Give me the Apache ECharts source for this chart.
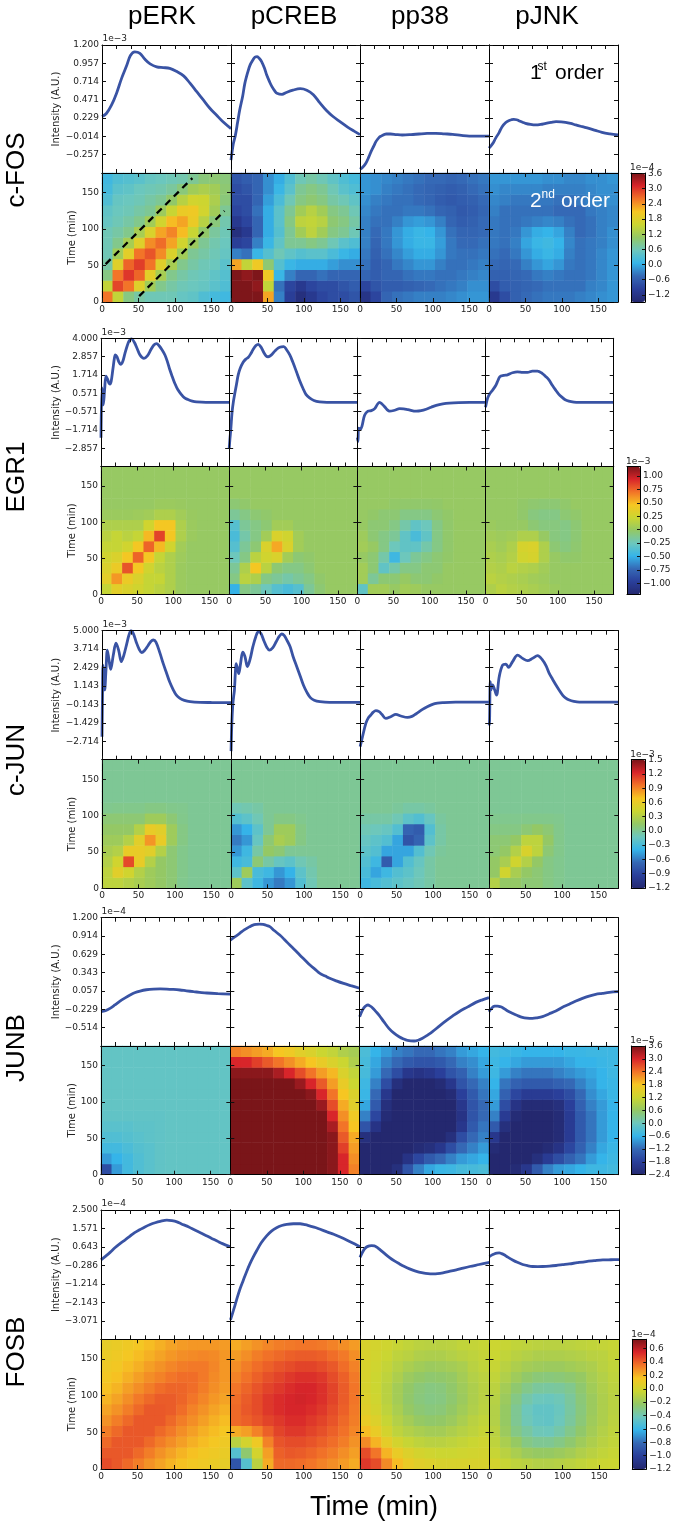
<!DOCTYPE html>
<html><head><meta charset="utf-8">
<script src="https://cdn.jsdelivr.net/npm/echarts@6/dist/echarts.min.js"></script>
<style>html,body{margin:0;padding:0;background:#fff}#c{width:676px;height:1529px}</style>
</head><body><div id="c"></div>
<script>
// ---------------- DATA ----------------
const proteins = ['pERK', 'pCREB', 'pp38', 'pJNK'];
const genes = ['c-FOS', 'EGR1', 'c-JUN', 'JUNB', 'FOSB'];
const T_MAX = 177;
const heatTimeTicks = [0, 50, 100, 150];
const lineTimeTicks = [0, 20, 40, 60, 80, 100, 120, 140, 160];
const cellIdx = ['0','1','2','3','4','5','6','7','8','9','10','11'];

// first-order axis ticks / ranges
const cfosTicks = [-0.257, -0.014, 0.229, 0.471, 0.714, 0.957, 1.2];
const egr1Ticks = [-2.857, -1.714, -0.571, 0.571, 1.714, 2.857, 4.0];
const cjunTicks = [-2.714, -1.429, -0.143, 1.143, 2.429, 3.714, 5.0];
const junbTicks = [-0.514, -0.229, 0.057, 0.343, 0.629, 0.914, 1.2];
const fosbTicks = [-3.071, -2.143, -1.214, -0.286, 0.643, 1.571, 2.5];
const cfosRange = [-0.5, 1.2];
const egr1Range = [-4, 4];
const cjunRange = [-4, 5];
const junbRange = [-0.8, 1.2];
const fosbRange = [-4, 2.5];

// colorbar ticks / ranges
const cfosCbTicks = [-1.2, -0.6, 0, 0.6, 1.2, 1.8, 2.4, 3.0, 3.6];
const egr1CbTicks = [-1.0, -0.75, -0.5, -0.25, 0, 0.25, 0.5, 0.75, 1.0];
const cjunCbTicks = [-1.2, -0.9, -0.6, -0.3, 0, 0.3, 0.6, 0.9, 1.2, 1.5];
const junbCbTicks = [-2.4, -1.8, -1.2, -0.6, 0, 0.6, 1.2, 1.8, 2.4, 3.0, 3.6];
const fosbCbTicks = [-1.2, -1.0, -0.8, -0.6, -0.4, -0.2, 0, 0.2, 0.4, 0.6];
const cfosCbRange = [-1.48, 3.62];
const egr1CbRange = [-1.21, 1.18];
const cjunCbRange = [-1.21, 1.5];
const junbCbRange = [-2.4, 3.6];
const fosbCbRange = [-1.2, 0.74];

// first-order kernels [time (min), value]
const cfos_pERK = [[0,0.25],[6,0.29],[13,0.40],[20,0.56],[27,0.76],[34,0.93],[39,1.06],[45,1.11],[52,1.09],[59,1.01],[66,0.95],[75,0.91],[84,0.90],[93,0.89],[102,0.85],[112,0.79],[121,0.69],[130,0.58],[139,0.47],[148,0.36],[157,0.27],[166,0.18],[177,0.09]];
const cfos_pCREB = [[0,-0.33],[3,-0.12],[6,0.0],[9,0.17],[12,0.34],[16,0.52],[19,0.69],[23,0.84],[26,0.93],[30,1.0],[33,1.04],[36,1.045],[39,1.02],[42,0.98],[46,0.89],[49,0.80],[53,0.71],[56,0.65],[60,0.59],[63,0.56],[70,0.545],[76,0.57],[85,0.60],[95,0.62],[104,0.60],[113,0.54],[122,0.43],[131,0.33],[140,0.25],[150,0.18],[160,0.11],[170,0.05],[177,0.01]];
const cfos_pp38 = [[0,-0.45],[4,-0.42],[8,-0.37],[12,-0.29],[15,-0.22],[19,-0.14],[22,-0.08],[26,-0.03],[29,-0.01],[33,0.01],[36,0.018],[42,0.018],[50,0.01],[58,0.005],[70,0.01],[81,0.018],[92,0.025],[104,0.027],[116,0.02],[127,0.014],[139,0.0],[150,-0.009],[165,-0.01],[177,-0.009]];
const cfos_pJNK = [[0,-0.17],[5,-0.11],[9,-0.04],[14,0.04],[18,0.115],[23,0.17],[27,0.195],[31,0.208],[34,0.213],[38,0.207],[41,0.195],[46,0.175],[50,0.16],[57,0.145],[64,0.138],[71,0.145],[78,0.16],[85,0.172],[92,0.182],[99,0.18],[105,0.173],[112,0.158],[119,0.138],[128,0.115],[137,0.093],[146,0.066],[155,0.04],[166,0.02],[177,0.005]];

const egr1_pERK = [[0,-2.2],[1.4,0.9],[3.2,-0.15],[5,0.8],[6.9,1.64],[9,1.45],[11,1.2],[12.4,1.14],[14,1.3],[16.5,2.1],[18.5,2.75],[19.8,2.96],[22,2.85],[24.5,2.55],[27.1,2.37],[30,2.55],[33,3.05],[36,3.5],[39,3.85],[42.3,3.96],[46,3.75],[50,3.35],[54,2.95],[59.3,2.75],[64,2.9],[69,3.3],[73,3.58],[76.8,3.67],[80,3.55],[84,3.3],[88.3,2.96],[92,2.5],[95.2,2.02],[98.5,1.6],[102,1.18],[106,0.8],[111,0.49],[115,0.3],[120,0.18],[126,0.08],[132,0.03],[145,0.0],[177,0.0]];
const egr1_pCREB = [[0,-2.9],[1,-2.3],[2.3,-1.64],[4,-0.6],[6,0.1],[7.8,0.57],[10,1.1],[12.4,1.7],[15,2.1],[19.3,2.5],[23,2.7],[26.2,2.8],[30,3.05],[33,3.3],[37,3.55],[40,3.62],[44,3.45],[48,3.1],[51,2.9],[53.8,2.85],[58,2.95],[63,3.2],[68,3.4],[72,3.47],[75.4,3.48],[79,3.3],[83.7,2.96],[88,2.5],[92.9,1.91],[97,1.4],[102,0.87],[106,0.5],[111,0.28],[117,0.12],[125,0.03],[135,0.0],[177,0.0]];
const egr1_pp38 = [[0,-2.2],[0.9,-2.44],[1.8,-1.6],[4,-1.68],[6.4,-1.48],[10,-0.8],[14.7,-0.55],[19.3,-0.51],[24,-0.39],[28,-0.1],[30.8,0.0],[34,-0.1],[37.7,-0.27],[41,-0.45],[44.6,-0.55],[51.5,-0.49],[58.4,-0.39],[64,-0.4],[69.9,-0.45],[81.4,-0.55],[88,-0.52],[95,-0.43],[102,-0.3],[109,-0.18],[118,-0.09],[127,-0.04],[140,-0.01],[155,0.0],[177,0.0]];
const egr1_pJNK = [[0,-0.3],[0.5,-0.27],[2.8,0.25],[6,0.55],[9.7,0.76],[14.3,1.07],[17,1.35],[19.8,1.6],[25,1.68],[30.3,1.72],[37.2,1.85],[44,1.91],[51,1.88],[58,1.87],[64.8,1.95],[71.7,1.95],[78.6,1.8],[83,1.62],[87.8,1.39],[92,1.08],[97,0.76],[101,0.52],[106,0.31],[110,0.17],[115,0.08],[122,0.02],[129,0.0],[177,0.0]];

const cjun_pERK = [[0,-2.4],[0.7,0.5],[1.4,2.6],[2.5,1.8],[3.7,0.86],[5.5,2.3],[7.3,3.65],[9.5,3.0],[11.9,2.3],[15.5,3.3],[19.2,4.13],[23,3.6],[26.5,2.84],[30,3.3],[34,4.1],[37,4.7],[39.8,5.0],[43,4.8],[47,4.2],[51,3.7],[54.4,3.47],[58,3.6],[63,3.95],[67,4.25],[70.4,4.35],[74,4.2],[79.6,3.42],[84,2.7],[88.7,2.02],[93,1.4],[97.9,0.86],[102,0.5],[107,0.28],[113,0.14],[120.8,0.05],[134.5,0.0],[150,-0.01],[177,-0.02]];
const cjun_pCREB = [[0,-3.4],[1,-1.5],[2.3,-0.2],[3.5,0.4],[4.6,0.86],[5.8,2.0],[6.9,2.7],[8.7,2.4],[10.5,2.0],[13,2.7],[16,3.5],[19,3.2],[22.4,2.5],[26,3.0],[30,3.9],[34,4.6],[37.5,4.93],[41,4.8],[45,4.3],[49,3.85],[52.6,3.65],[57,3.8],[62,4.25],[66,4.6],[69.5,4.77],[73,4.65],[77,4.3],[81,3.88],[85,3.2],[90,2.5],[95,1.8],[99.3,1.2],[104,0.7],[108.4,0.35],[114,0.15],[122,0.05],[135,0.0],[177,0.0]];
const cjun_pp38 = [[0,-3.09],[3.2,-2.4],[7.8,-1.47],[11,-1.1],[14.6,-0.88],[18,-0.68],[21.5,-0.58],[26,-0.65],[30,-0.85],[35.2,-1.12],[42,-1.0],[49,-0.84],[55.8,-0.95],[65,-1.05],[71,-0.98],[76.4,-0.81],[85.5,-0.49],[92,-0.3],[99.3,-0.14],[106,-0.06],[113,-0.02],[131,0.02],[177,0.02]];
const cjun_pJNK = [[0,-1.6],[0.5,-1.23],[1.4,1.44],[2.3,0.86],[4.6,1.21],[7.3,0.9],[10,0.51],[13.7,1.79],[18.3,2.6],[22.9,2.67],[26.5,2.44],[32,2.84],[38.9,3.3],[45.7,3.07],[52.6,2.91],[59.5,3.07],[66.3,3.26],[73.2,2.95],[78,2.55],[82.3,2.02],[87,1.6],[91.5,1.21],[96,0.85],[100.6,0.51],[105,0.3],[109.8,0.16],[116,0.07],[123.5,0.02],[177,0.02]];

const junb_pERK = [[0,-0.265],[6,-0.25],[12.4,-0.213],[19,-0.16],[26,-0.1],[33,-0.05],[39.8,-0.005],[46,0.03],[53.5,0.057],[62,0.077],[71.8,0.088],[81,0.09],[90,0.088],[99,0.082],[108,0.073],[117,0.06],[126.7,0.047],[135,0.037],[145,0.026],[160,0.017],[177,0.01]];
const junb_pCREB = [[0,0.85],[6,0.9],[12.8,0.956],[19,1.01],[26.5,1.06],[31,1.085],[35.7,1.096],[40,1.1],[44.8,1.096],[49,1.082],[54,1.06],[60,1.0],[67.7,0.93],[74,0.86],[81.4,0.774],[88,0.7],[95,0.618],[102,0.54],[109,0.462],[116,0.395],[122.6,0.332],[130,0.29],[136,0.255],[145,0.215],[155,0.175],[165,0.14],[177,0.1]];
const junb_pp38 = [[0,-0.343],[3,-0.26],[6,-0.203],[9,-0.17],[11.4,-0.161],[14,-0.175],[17.4,-0.203],[22,-0.26],[26.5,-0.317],[33,-0.42],[40,-0.525],[47,-0.6],[54,-0.655],[60,-0.69],[65.4,-0.712],[74.6,-0.722],[80,-0.71],[86,-0.68],[93,-0.63],[99.7,-0.577],[109,-0.49],[118,-0.41],[127,-0.335],[136,-0.265],[148,-0.19],[159,-0.12],[168,-0.08],[177,-0.047]];
const junb_pJNK = [[0,-0.265],[4.6,-0.2],[8,-0.18],[11.4,-0.177],[14.5,-0.185],[18.3,-0.2],[25,-0.25],[32,-0.29],[39,-0.325],[45.7,-0.353],[52,-0.365],[59.5,-0.369],[66,-0.36],[73.2,-0.343],[82,-0.3],[91.5,-0.255],[100,-0.2],[109.8,-0.15],[119,-0.1],[128,-0.057],[137,-0.022],[146,0.005],[155,0.02],[164.7,0.036],[177,0.047]];

const fosb_pERK = [[0,-0.01],[6,0.17],[12.4,0.37],[19,0.6],[26,0.81],[33,1.0],[39.8,1.19],[46,1.36],[53.5,1.52],[60,1.65],[67.2,1.77],[74,1.86],[81,1.93],[90,1.99],[97,1.96],[103.8,1.9],[110,1.8],[117.6,1.69],[124,1.57],[131,1.44],[138,1.32],[145,1.19],[152,1.06],[158.7,0.94],[166,0.81],[177,0.65]];
const fosb_pCREB = [[0,-3.02],[4,-2.55],[8.2,-2.03],[12.5,-1.52],[17.4,-1.04],[22,-0.6],[26.5,-0.21],[31,0.13],[35.7,0.45],[42,0.85],[49.4,1.2],[56,1.44],[63,1.61],[70,1.72],[76.9,1.78],[86,1.81],[95,1.81],[102,1.76],[109,1.69],[116,1.62],[122.6,1.53],[132,1.4],[141,1.28],[150,1.14],[160,0.97],[170,0.79],[177,0.65]];
const fosb_pp38 = [[0,0.12],[3,0.35],[6,0.53],[9,0.64],[12.8,0.7],[16,0.71],[19.7,0.7],[23,0.63],[26.5,0.53],[33,0.33],[40,0.12],[47,-0.06],[54,-0.21],[60,-0.33],[67.7,-0.46],[76,-0.57],[86,-0.66],[93,-0.7],[99.7,-0.71],[106,-0.7],[113.4,-0.66],[122,-0.59],[131.7,-0.51],[141,-0.42],[150,-0.34],[163,-0.24],[177,-0.13]];
const fosb_pJNK = [[0,0.15],[3,0.23],[6.4,0.29],[10,0.33],[13.3,0.34],[16.5,0.31],[20,0.25],[25,0.13],[31.6,-0.01],[38,-0.13],[45.3,-0.24],[52,-0.3],[59,-0.34],[66,-0.345],[72.7,-0.34],[82,-0.32],[91,-0.29],[100,-0.25],[109,-0.21],[120,-0.15],[132,-0.09],[143,-0.05],[155,-0.01],[166,0.0],[177,0.01]];

// second-order kernels: symmetric, lower triangle rows (row i = t2 cell, cols j<=i = t1 cell), 12 cells of 14.75 min
const cfos_pERK_k = [[2.6],[1.5,2.9],[0.9,2.6,3.0],[0.7,1.8,2.7,2.95],[0.6,1.2,1.85,2.6,2.8],[0.6,0.85,1.25,1.8,2.45,2.65],[0.6,0.7,0.85,1.25,1.75,2.3,2.5],[0.5,0.6,0.7,0.85,1.2,1.65,2.15,2.3],[0.45,0.55,0.6,0.7,0.8,1.15,1.55,1.95,2.0],[0.3,0.5,0.55,0.6,0.7,0.8,1.05,1.4,1.65,1.6],[0.2,0.4,0.45,0.55,0.6,0.65,0.75,0.95,1.2,1.3,1.2],[0.15,0.3,0.35,0.4,0.5,0.55,0.6,0.65,0.8,0.95,1.0,0.95]];
const cfos_pCREB_k = [[3.6],[3.6,3.6],[3.6,3.5,3.6],[2.3,1.5,2.0,1.0],[-0.3,-0.4,0.1,0.35,0.6],[-1.0,-0.9,-0.3,0.1,0.45,0.8],[-1.3,-1.1,-0.5,0.0,0.35,0.8,1.2],[-1.1,-0.9,-0.5,0.0,0.4,0.9,1.45,1.5],[-0.9,-0.8,-0.4,0.0,0.4,0.8,1.2,1.4,1.2],[-0.8,-0.8,-0.5,-0.1,0.25,0.6,0.9,1.0,0.9,0.7],[-0.8,-0.7,-0.5,-0.2,0.1,0.4,0.8,0.9,0.8,0.6,0.4],[-0.7,-0.6,-0.5,-0.2,0.0,0.3,0.6,0.7,0.6,0.45,0.3,0.2]];
const cfos_pp38_k = [[-1.2],[-0.9,-0.7],[-0.5,-0.6,-0.5],[-0.4,-0.6,-0.5,-0.35],[-0.35,-0.55,-0.4,-0.25,-0.1],[-0.3,-0.5,-0.35,-0.15,0.0,0.1],[-0.3,-0.45,-0.35,-0.15,0.0,0.1,0.05],[-0.3,-0.4,-0.4,-0.3,-0.15,-0.1,-0.15,-0.3],[-0.25,-0.35,-0.4,-0.4,-0.35,-0.35,-0.4,-0.5,-0.55],[-0.2,-0.3,-0.35,-0.4,-0.4,-0.45,-0.5,-0.6,-0.65,-0.6],[-0.15,-0.2,-0.3,-0.35,-0.4,-0.45,-0.5,-0.55,-0.6,-0.55,-0.45],[-0.15,-0.2,-0.25,-0.3,-0.35,-0.4,-0.45,-0.45,-0.5,-0.45,-0.4,-0.35]];
const cfos_pJNK_k = [[-1.1],[-0.8,-0.6],[-0.55,-0.55,-0.5],[-0.45,-0.5,-0.45,-0.3],[-0.4,-0.45,-0.35,-0.15,0.0],[-0.35,-0.4,-0.3,-0.05,0.1,0.15],[-0.35,-0.4,-0.35,-0.15,0.0,0.05,-0.05],[-0.35,-0.4,-0.4,-0.35,-0.3,-0.25,-0.3,-0.4],[-0.3,-0.4,-0.4,-0.4,-0.4,-0.4,-0.45,-0.45,-0.45],[-0.25,-0.3,-0.35,-0.35,-0.35,-0.35,-0.4,-0.4,-0.35,-0.3],[-0.2,-0.25,-0.25,-0.25,-0.25,-0.3,-0.3,-0.3,-0.3,-0.25,-0.2],[-0.15,-0.15,-0.15,-0.15,-0.15,-0.2,-0.2,-0.25,-0.25,-0.2,-0.2,-0.15]];

const egr1_pERK_k = [[0.2],[0.35,0.6],[0.3,0.4,0.8],[0.25,0.3,0.45,0.75],[0.2,0.2,0.25,0.45,0.75],[0.15,0.2,0.15,0.2,0.5,0.85],[0.1,0.1,0.1,0.1,0.25,0.45,0.45],[0.02,0.02,0.02,0.03,0.05,0.1,0.1,0.05],[0,0,0,0,0,0.02,0.02,0.01,0],[0,0,0,0,0,0,0,0,0,0],[0,0,0,0,0,0,0,0,0,0,0],[0,0,0,0,0,0,0,0,0,0,0,0]];
const egr1_pCREB_k = [[-0.5],[-0.1,0.15],[-0.15,0.1,0.45],[-0.25,-0.1,0.15,0.25],[-0.35,-0.15,-0.05,0.3,0.55],[-0.4,-0.2,-0.1,0.05,0.3,0.25],[-0.35,-0.15,-0.1,-0.05,0.05,0.05,0.0],[-0.15,-0.1,-0.05,-0.03,0,0,0,0],[-0.05,-0.03,0,0,0,0,0,0,0],[0,0,0,0,0,0,0,0,0,0],[0,0,0,0,0,0,0,0,0,0,0],[0,0,0,0,0,0,0,0,0,0,0,0]];
const egr1_pp38_k = [[-0.3],[0.05,-0.15],[0.05,-0.05,-0.3],[0.0,-0.05,-0.2,-0.45],[0.05,0.0,-0.1,-0.25,-0.3],[0.03,-0.05,-0.1,-0.15,-0.3,-0.4],[0.0,-0.05,-0.05,-0.1,-0.2,-0.3,-0.25],[0,-0.02,-0.05,-0.05,-0.1,-0.1,-0.1,-0.05],[0,0,0,-0.02,-0.03,-0.03,-0.03,-0.02,0],[0,0,0,0,0,0,0,0,0,0],[0,0,0,0,0,0,0,0,0,0,0],[0,0,0,0,0,0,0,0,0,0,0,0]];
const egr1_pJNK_k = [[0.1],[0.15,0.12],[0.12,0.1,0.15],[0.1,0.08,0.12,0.25],[0.08,0.05,0.1,0.28,0.3],[0.05,0.03,0.05,0.1,0.1,0.0],[0.02,0,0,0,-0.05,-0.08,-0.08],[0,0,0,-0.03,-0.08,-0.1,-0.1,-0.05],[0,0,0,-0.02,-0.04,-0.05,-0.05,-0.03,0],[0,0,0,0,0,0,0,0,0,0],[0,0,0,0,0,0,0,0,0,0,0],[0,0,0,0,0,0,0,0,0,0,0,0]];

const cjun_pERK_k = [[0.35],[0.35,0.55],[0.3,0.45,1.1],[0.25,0.3,0.6,0.6],[0.2,0.2,0.3,0.55,0.85],[0.15,0.15,0.15,0.3,0.6,0.55],[0.1,0.1,0.1,0.1,0.2,0.2,0.1],[0.02,0.03,0.03,0.03,0.05,0.05,0.03,0.02],[0,0,0,0,0,0,0,0,0],[0,0,0,0,0,0,0,0,0,0],[0,0,0,0,0,0,0,0,0,0,0],[0,0,0,0,0,0,0,0,0,0,0,0]];
const cjun_pCREB_k = [[0.2],[-0.2,0.2],[-0.35,-0.3,0.1],[-0.5,-0.35,-0.05,0.15],[-0.6,-0.5,-0.15,0.1,0.25],[-0.5,-0.4,-0.2,0.0,0.2,0.2],[-0.25,-0.2,-0.1,0,0.05,0.05,0.02],[-0.1,-0.08,-0.05,0,0,0,0,0],[0,0,0,0,0,0,0,0,0],[0,0,0,0,0,0,0,0,0,0],[0,0,0,0,0,0,0,0,0,0,0],[0,0,0,0,0,0,0,0,0,0,0,0]];
const cjun_pp38_k = [[-0.35],[-0.3,-0.45],[-0.25,-0.35,-0.75],[-0.2,-0.25,-0.45,-0.45],[-0.15,-0.2,-0.25,-0.45,-0.8],[-0.1,-0.12,-0.15,-0.25,-0.7,-0.75],[-0.05,-0.05,-0.05,-0.1,-0.2,-0.25,-0.15],[0,0,0,-0.02,-0.05,-0.05,-0.03,0],[0,0,0,0,0,0,0,0,0],[0,0,0,0,0,0,0,0,0,0],[0,0,0,0,0,0,0,0,0,0,0],[0,0,0,0,0,0,0,0,0,0,0,0]];
const cjun_pJNK_k = [[0.3],[0.15,0.45],[0.15,0.25,0.45],[0.1,0.15,0.3,0.5],[0.1,0.1,0.15,0.35,0.35],[0.05,0.05,0.05,0.1,0.15,0.1],[0.02,0.02,0.02,0.03,0.03,0.03,0.02],[0,0,0,0,0,0,0,0],[0,0,0,0,0,0,0,0,0],[0,0,0,0,0,0,0,0,0,0],[0,0,0,0,0,0,0,0,0,0,0],[0,0,0,0,0,0,0,0,0,0,0,0]];

const junb_pERK_k = [[-1.6],[-0.8,-0.6],[-0.45,-0.45,-0.35],[-0.3,-0.3,-0.25,-0.2],[-0.2,-0.2,-0.2,-0.15,-0.15],[-0.12,-0.12,-0.12,-0.12,-0.12,-0.12],[-0.1,-0.1,-0.1,-0.1,-0.1,-0.1,-0.1],[-0.1,-0.1,-0.1,-0.1,-0.1,-0.1,-0.1,-0.1],[-0.1,-0.1,-0.1,-0.1,-0.1,-0.1,-0.1,-0.1,-0.1],[-0.1,-0.1,-0.1,-0.1,-0.1,-0.1,-0.1,-0.1,-0.1,-0.1],[-0.1,-0.1,-0.1,-0.1,-0.1,-0.1,-0.1,-0.1,-0.1,-0.1,-0.1],[-0.1,-0.1,-0.1,-0.1,-0.1,-0.1,-0.1,-0.1,-0.1,-0.1,-0.1,-0.1]];
const junb_pCREB_k = [[3.6],[3.6,3.6],[3.6,3.6,3.6],[3.6,3.6,3.6,3.6],[3.6,3.6,3.6,3.6,3.6],[3.6,3.6,3.6,3.6,3.6,3.6],[3.6,3.6,3.6,3.6,3.6,3.6,3.6],[3.6,3.6,3.6,3.6,3.6,3.6,3.6,3.5],[3.6,3.6,3.6,3.6,3.6,3.6,3.4,3.0,2.6],[3.5,3.5,3.5,3.5,3.3,3.0,2.7,2.4,2.1,1.9],[3.0,3.0,2.8,2.6,2.4,2.2,2.0,1.8,1.6,1.4,1.2],[2.3,2.2,2.1,2.0,1.8,1.7,1.5,1.4,1.2,1.1,0.9,0.8]];
const junb_pp38_k = [[-2.4],[-2.4,-2.4],[-2.4,-2.4,-2.4],[-2.2,-2.4,-2.4,-2.4],[-1.5,-2.1,-2.4,-2.4,-2.4],[-1.0,-1.7,-2.3,-2.4,-2.4,-2.4],[-0.7,-1.4,-2.2,-2.4,-2.4,-2.4,-2.4],[-0.55,-1.2,-2.0,-2.4,-2.4,-2.4,-2.4,-2.4],[-0.5,-1.0,-1.6,-2.2,-2.4,-2.4,-2.4,-2.3,-2.0],[-0.4,-0.8,-1.2,-1.6,-2.0,-2.1,-2.0,-1.8,-1.5,-1.3],[-0.4,-0.7,-1.0,-1.2,-1.4,-1.5,-1.5,-1.4,-1.2,-1.0,-0.9],[-0.35,-0.6,-0.8,-1.0,-1.1,-1.2,-1.2,-1.1,-1.0,-0.8,-0.7,-0.6]];
const junb_pJNK_k = [[-2.4],[-2.4,-2.4],[-2.3,-2.4,-2.4],[-2.0,-2.4,-2.4,-2.4],[-1.4,-2.2,-2.4,-2.4,-2.4],[-1.0,-1.9,-2.3,-2.4,-2.4,-2.4],[-0.8,-1.6,-2.1,-2.3,-2.3,-2.3,-2.2],[-0.7,-1.3,-1.7,-1.9,-1.9,-1.9,-1.8,-1.6],[-0.6,-1.1,-1.3,-1.4,-1.4,-1.4,-1.3,-1.2,-1.0],[-0.5,-0.8,-1.0,-1.1,-1.1,-1.1,-1.0,-0.9,-0.8,-0.7],[-0.5,-0.6,-0.7,-0.8,-0.8,-0.8,-0.8,-0.7,-0.6,-0.6,-0.55],[-0.45,-0.5,-0.55,-0.6,-0.6,-0.6,-0.6,-0.55,-0.55,-0.5,-0.5,-0.5]];

const fosb_pERK_k = [[0.45],[0.42,0.42],[0.38,0.42,0.42],[0.33,0.38,0.42,0.42],[0.28,0.33,0.38,0.42,0.42],[0.24,0.28,0.33,0.38,0.42,0.42],[0.2,0.24,0.29,0.34,0.38,0.41,0.41],[0.17,0.2,0.25,0.29,0.33,0.37,0.39,0.39],[0.14,0.17,0.21,0.25,0.29,0.32,0.35,0.37,0.37],[0.12,0.14,0.18,0.21,0.25,0.28,0.31,0.33,0.34,0.34],[0.1,0.12,0.15,0.18,0.21,0.24,0.27,0.29,0.3,0.31,0.3],[0.08,0.1,0.12,0.15,0.18,0.21,0.24,0.26,0.27,0.27,0.27,0.26]];
const fosb_pCREB_k = [[-0.9],[-0.5,-0.25],[-0.1,0.0,0.12],[0.22,0.25,0.32,0.4],[0.38,0.4,0.43,0.47,0.5],[0.38,0.42,0.45,0.5,0.53,0.55],[0.37,0.41,0.45,0.5,0.53,0.55,0.56],[0.35,0.39,0.43,0.47,0.5,0.53,0.55,0.55],[0.32,0.36,0.4,0.44,0.47,0.5,0.52,0.52,0.5],[0.29,0.33,0.37,0.4,0.43,0.45,0.47,0.47,0.45,0.42],[0.26,0.29,0.33,0.36,0.38,0.4,0.41,0.41,0.4,0.37,0.34],[0.22,0.25,0.28,0.31,0.33,0.34,0.35,0.35,0.34,0.32,0.29,0.26]];
const fosb_pp38_k = [[0.5],[0.45,0.35],[0.3,0.2,0.08],[0.18,0.1,0.0,-0.08],[0.1,0.04,-0.05,-0.12,-0.17],[0.06,0.0,-0.08,-0.15,-0.22,-0.26],[0.04,-0.02,-0.1,-0.17,-0.24,-0.28,-0.3],[0.02,-0.03,-0.1,-0.17,-0.23,-0.27,-0.29,-0.28],[0.02,-0.03,-0.08,-0.14,-0.2,-0.23,-0.25,-0.24,-0.22],[0.02,-0.02,-0.06,-0.11,-0.15,-0.18,-0.2,-0.19,-0.17,-0.15],[0.02,-0.01,-0.04,-0.08,-0.1,-0.13,-0.14,-0.14,-0.12,-0.1,-0.08],[0.02,0.0,-0.02,-0.05,-0.07,-0.09,-0.1,-0.1,-0.09,-0.07,-0.06,-0.05]];
const fosb_pJNK_k = [[0.0],[-0.05,-0.1],[-0.08,-0.15,-0.22],[-0.1,-0.2,-0.3,-0.36],[-0.12,-0.22,-0.33,-0.41,-0.45],[-0.12,-0.22,-0.33,-0.42,-0.46,-0.46],[-0.11,-0.2,-0.3,-0.38,-0.42,-0.43,-0.41],[-0.09,-0.17,-0.25,-0.31,-0.35,-0.36,-0.35,-0.32],[-0.07,-0.13,-0.19,-0.24,-0.27,-0.28,-0.27,-0.25,-0.22],[-0.05,-0.1,-0.14,-0.17,-0.19,-0.2,-0.2,-0.18,-0.16,-0.14],[-0.04,-0.07,-0.1,-0.12,-0.14,-0.14,-0.14,-0.13,-0.12,-0.1,-0.09],[-0.03,-0.05,-0.07,-0.08,-0.09,-0.1,-0.1,-0.09,-0.08,-0.07,-0.06,-0.05]];

// band guides drawn on the c-FOS / pERK kernel
const cfosBandUpper = [[5, 52], [124, 170]];
const cfosBandLower = [[51, 8], [168, 125]];

// ---------------- ASSEMBLY ----------------
const cfg = [
  {lines:[cfos_pERK,cfos_pCREB,cfos_pp38,cfos_pJNK], kern:[cfos_pERK_k,cfos_pCREB_k,cfos_pp38_k,cfos_pJNK_k], yT:cfosTicks, yR:cfosRange, yE:'1e\u22123', cT:cfosCbTicks, cR:cfosCbRange, cE:'1e\u22124', cD:1},
  {lines:[egr1_pERK,egr1_pCREB,egr1_pp38,egr1_pJNK], kern:[egr1_pERK_k,egr1_pCREB_k,egr1_pp38_k,egr1_pJNK_k], yT:egr1Ticks, yR:egr1Range, yE:'1e\u22123', cT:egr1CbTicks, cR:egr1CbRange, cE:'1e\u22123', cD:2},
  {lines:[cjun_pERK,cjun_pCREB,cjun_pp38,cjun_pJNK], kern:[cjun_pERK_k,cjun_pCREB_k,cjun_pp38_k,cjun_pJNK_k], yT:cjunTicks, yR:cjunRange, yE:'1e\u22123', cT:cjunCbTicks, cR:cjunCbRange, cE:'1e\u22123', cD:1},
  {lines:[junb_pERK,junb_pCREB,junb_pp38,junb_pJNK], kern:[junb_pERK_k,junb_pCREB_k,junb_pp38_k,junb_pJNK_k], yT:junbTicks, yR:junbRange, yE:'1e\u22124', cT:junbCbTicks, cR:junbCbRange, cE:'1e\u22125', cD:1},
  {lines:[fosb_pERK,fosb_pCREB,fosb_pp38,fosb_pJNK], kern:[fosb_pERK_k,fosb_pCREB_k,fosb_pp38_k,fosb_pJNK_k], yT:fosbTicks, yR:fosbRange, yE:'1e\u22124', cT:fosbCbTicks, cR:fosbCbRange, cE:'1e\u22124', cD:1}
];
// layout (pixels)
const lay = [
  {L:102, R:618,   lt:45,    ht:173,    hb:302,    cl:631,   cr:645,   ly:170},
  {L:101, R:613.7, lt:338.3, ht:466.5,  hb:594.5,  cl:627,   cr:640,   ly:477},
  {L:102, R:618.3, lt:630.7, ht:759.7,  hb:888.3,  cl:631.3, cr:645.3, ly:760},
  {L:101, R:618.3, lt:917.7, ht:1046,   hb:1174.7, cl:631.3, cr:645.3, ly:1048},
  {L:101, R:619,   lt:1210,  ht:1339.3, hb:1469,   cl:632.3, cr:646.3, ly:1352}
];
const headerX = [162, 294, 420, 547];
const jet = ['#24286f','#2a3f9a','#3568b5','#35b4e9','#6cc7bd','#93c866','#cbd631','#f6c622','#f27428','#d8252a','#7a1519'];

const grids = [], xs = [], ys = [], series = [], vms = [], gfx = [];
const TICK = '#111', LAB = '#222';
function fmt(v, d) { const s = Math.abs(v).toFixed(d); return (v < 0 && +s !== 0 ? '\u2212' : '') + s; }
function addGrid(l, t, w, h) { grids.push({left:l, top:t, width:w, height:h, show:false}); return grids.length - 1; }
function vAxis(dim, gi, pos, min, max, o) {
  const a = {type:'value', gridIndex:gi, position:pos, min:min, max:max, z:10, silent:true,
    axisLine:{show:true, onZero:false, lineStyle:{color:'#000', width:1}},
    splitLine:{show:false}, axisPointer:{show:false},
    axisTick:{show:!!o.ticks, inside:true, length:4, lineStyle:{color:TICK, width:1}, customValues:o.ticks},
    axisLabel:{show:!!o.labels, customValues:o.labels, margin:3, fontSize:9, fontFamily:'DejaVu Sans', color:LAB, formatter:o.fmt}};
  const arr = dim === 'x' ? xs : ys; arr.push(a); return arr.length - 1;
}
function cAxis(dim, gi) {
  const arr = dim === 'x' ? xs : ys;
  arr.push({type:'category', gridIndex:gi, data:cellIdx, show:false}); return arr.length - 1;
}
function text(x, y, s, font, o) {
  o = o || {};
  gfx.push({type:'text', x:x, y:y, rotation:o.rot || 0, z:100, silent:true,
    style:{text:s, font:font, fill:o.fill || '#000', align:o.align || 'center', textAlign:o.align || 'center',
      verticalAlign:'middle', textVerticalAlign:'middle'}});
}

cfg.forEach((g, gi) => {
  const P = lay[gi];
  const W = (P.R - P.L) / 4, LH = P.ht - P.lt, HH = P.hb - P.ht;
  const heatIdx = [];
  for (let c = 0; c < 4; c++) {
    const left = P.L + c * W;
    // ---- first-order panel
    const lg = addGrid(left, P.lt, W, LH);
    const xb = vAxis('x', lg, 'bottom', 0, T_MAX, {ticks:lineTimeTicks});
    vAxis('x', lg, 'top', 0, T_MAX, {ticks:lineTimeTicks});
    const yl = vAxis('y', lg, 'left', g.yR[0], g.yR[1], {ticks:g.yT, labels: c === 0 ? g.yT : null, fmt: v => fmt(v, 3)});
    vAxis('y', lg, 'right', g.yR[0], g.yR[1], {ticks:g.yT});
    series.push({type:'line', xAxisIndex:xb, yAxisIndex:yl, data:g.lines[c], smooth:0.35, showSymbol:false, symbol:'none',
      lineStyle:{color:'#3953a4', width:2.8}, silent:true, z:5});
    // ---- second-order panel
    const hg = addGrid(left, P.ht, W, HH);
    const xc = cAxis('x', hg), yc = cAxis('y', hg);
    const hxb = vAxis('x', hg, 'bottom', 0, T_MAX, {ticks:heatTimeTicks, labels:heatTimeTicks, fmt: v => String(v)});
    vAxis('x', hg, 'top', 0, T_MAX, {ticks:heatTimeTicks});
    const hyl = vAxis('y', hg, 'left', 0, T_MAX, {ticks:heatTimeTicks, labels: c === 0 ? heatTimeTicks : null, fmt: v => String(v)});
    vAxis('y', hg, 'right', 0, T_MAX, {ticks:heatTimeTicks});
    const tri = g.kern[c], n = cellIdx.length, data = [];
    for (let i = 0; i < n; i++) for (let j = 0; j < n; j++) {
      const v = j <= i ? tri[i][j] : tri[j][i];
      data.push([j, i, v]);
    }
    heatIdx.push(series.length);
    series.push({type:'heatmap', xAxisIndex:xc, yAxisIndex:yc, data:data, silent:true, progressive:0, z:2});
    if (gi === 0 && c === 0) {
      [cfosBandUpper, cfosBandLower].forEach(b => series.push({type:'line', xAxisIndex:hxb, yAxisIndex:hyl, data:b,
        showSymbol:false, symbol:'none', silent:true, z:6, lineStyle:{color:'#000', width:2.3, type:[7, 5]}}));
    }
  }
  // ---- colorbar
  vms.push({type:'continuous', min:g.cR[0], max:g.cR[1], seriesIndex:heatIdx, inRange:{color:jet},
    left:P.cl, top:P.ht, itemWidth:P.cr - P.cl, itemHeight:HH, orient:'vertical', calculable:false,
    padding:0, text:null, hoverLink:false, z:4});
  const cg = addGrid(P.cl, P.ht, P.cr - P.cl, HH);
  vAxis('x', cg, 'bottom', 0, 1, {});
  vAxis('x', cg, 'top', 0, 1, {});
  vAxis('y', cg, 'left', g.cR[0], g.cR[1], {});
  const cy = vAxis('y', cg, 'right', g.cR[0], g.cR[1], {ticks:g.cT, labels:g.cT, fmt: v => fmt(v, g.cD)});
  ys[cy].axisTick.length = 3;
  // ---- texts
  text(16.5, P.ly, genes[gi], '26px "Liberation Sans"', {rot:Math.PI / 2});
  text(56, P.lt + LH / 2, 'Intensity (A.U.)', '10px "DejaVu Sans"', {rot:Math.PI / 2, fill:'#222'});
  text(72.5, P.ht + HH / 2, 'Time (min)', '10px "DejaVu Sans"', {rot:Math.PI / 2, fill:'#222'});
  text(P.L + 0.5, P.lt - 6, g.yE, '9px "DejaVu Sans"', {align:'left', fill:'#222'});
  text(P.cl - 1, P.ht - 5, g.cE, '9px "DejaVu Sans"', {align:'left', fill:'#222'});
});
proteins.forEach((p, i) => text(headerX[i], 17, p, '26px "Liberation Sans"'));
text(374, 1508, 'Time (min)', '27px "Liberation Sans"');
// annotations
text(530, 73, '1', '21px "Liberation Sans"', {align:'left'});
text(537.5, 67, 'st', '12px "Liberation Sans"', {align:'left'});
text(555, 73, 'order', '21px "Liberation Sans"', {align:'left'});
text(530, 201, '2', '21px "Liberation Sans"', {align:'left', fill:'#fff'});
text(541.5, 195, 'nd', '12px "Liberation Sans"', {align:'left', fill:'#fff'});
text(561, 201, 'order', '21px "Liberation Sans"', {align:'left', fill:'#fff'});

const chart = echarts.init(document.getElementById('c'), null, {renderer:'canvas'});
chart.setOption({animation:false, backgroundColor:'#fff', tooltip:{show:false},
  grid:grids, xAxis:xs, yAxis:ys, series:series, visualMap:vms, graphic:{elements:gfx}});
</script></body></html>
